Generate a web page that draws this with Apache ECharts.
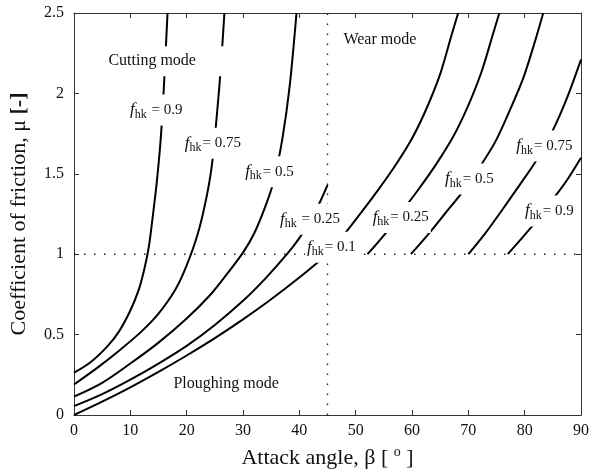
<!DOCTYPE html>
<html>
<head>
<meta charset="utf-8">
<script src="https://cdn.jsdelivr.net/npm/echarts@6/dist/echarts.min.js"></script>
<style>
  html, body { margin: 0; padding: 0; background: #fff; }
  #chart { width: 592px; height: 474px; }
</style>
</head>
<body>
<div id="chart"></div>
<script>
// Axis ranges and tick step
const betaMin = 0, betaMax = 90, betaStep = 10;
const muMin = 0, muMax = 2.5, muStep = 0.5;

// Cutting mode curves: attack angle β (deg) vs friction coefficient μ
const cut09Beta = [0, 3, 6, 8, 10, 11.5, 12.5, 13.3, 14, 14.7, 15.4, 16, 16.6];
const cut09Mu   = [0.263, 0.33, 0.43, 0.52, 0.65, 0.78, 0.91, 1.05, 1.24, 1.45, 1.72, 2.07, 2.5];

const cut075Beta = [0, 4, 8, 12, 15, 18, 20, 22, 23.5, 24.5, 25.5, 26.1, 26.7];
const cut075Mu   = [0.19, 0.29, 0.40, 0.52, 0.63, 0.78, 0.93, 1.13, 1.35, 1.56, 1.92, 2.18, 2.5];

const cut05Beta = [0, 5, 10, 15, 20, 24, 27, 30, 32, 34, 35.5, 37, 38.3, 39.5];
const cut05Mu   = [0.114, 0.2, 0.32, 0.45, 0.6, 0.74, 0.87, 1.01, 1.13, 1.3, 1.46, 1.72, 2.05, 2.5];

const cut025Beta = [0, 5, 10, 15, 20, 25, 30, 34, 37.8, 40, 42, 43.6, 45];
const cut025Mu   = [0.055, 0.13, 0.22, 0.32, 0.43, 0.56, 0.71, 0.85, 1.0, 1.1, 1.21, 1.32, 1.43];

const cut01Beta = [0, 5, 10, 15, 20, 25, 30, 35, 40, 45];
const cut01Mu   = [0, 0.083, 0.172, 0.268, 0.37, 0.478, 0.595, 0.72, 0.855, 1.0];

// Wear mode curves
const wear01Beta = [45, 48, 51, 54, 57, 60, 62.5, 65, 67, 68.2];
const wear01Mu   = [1.0, 1.125, 1.26, 1.4, 1.55, 1.72, 1.9, 2.12, 2.36, 2.5];

const wear025Beta = [52.1, 55.3, 58.3, 61.3, 64.3, 67.3, 69.8, 72.3, 74.3, 75.5];
const wear025Mu   = [1.0, 1.13, 1.27, 1.41, 1.56, 1.73, 1.91, 2.13, 2.36, 2.5];

const wear05Beta = [59.8, 62.8, 65.8, 68.8, 71.8, 74.8, 77.3, 79.8, 81.8, 83.3];
const wear05Mu   = [1.0, 1.12, 1.25, 1.38, 1.53, 1.70, 1.89, 2.1, 2.32, 2.5];

const wear075Beta = [70, 73, 76, 79, 82, 85, 87.5, 90];
const wear075Mu   = [1.0, 1.13, 1.275, 1.425, 1.58, 1.77, 1.97, 2.21];

const wear09Beta = [77, 79, 81, 83, 85, 87.5, 90];
const wear09Mu   = [1.0, 1.08, 1.16, 1.245, 1.34, 1.46, 1.6];

// Boundary lines: μ = 1 and β = 45°
const limitMu = 1;
const limitBeta = 45;

// Region and curve annotations
const annoText = [
  'Cutting mode', 'Wear mode', 'Ploughing mode',
  ' = 0.9', '= 0.75', '= 0.5', ' = 0.25', '= 0.1',
  '= 0.25', '= 0.5', '= 0.75', '= 0.9'
];
const annoIsFhk = [false, false, false, true, true, true, true, true, true, true, true, true];
const annoBeta = [16.36, 54.3, 27.0, 14.6, 24.65, 34.7, 41.9, 45.7, 58.0, 70.2, 83.5, 84.4];
const annoMu   = [2.20, 2.336, 0.197, 1.897, 1.69, 1.513, 1.217, 1.043, 1.229, 1.468, 1.673, 1.269];

const serif = '"Liberation Serif", "DejaVu Serif", serif';
const ink = '#111';

function zip(xs, ys) { return xs.map((x, i) => [x, ys[i]]); }

const curves = [
  [cut09Beta, cut09Mu], [cut075Beta, cut075Mu], [cut05Beta, cut05Mu],
  [cut025Beta, cut025Mu], [cut01Beta, cut01Mu],
  [wear01Beta, wear01Mu], [wear025Beta, wear025Mu], [wear05Beta, wear05Mu],
  [wear075Beta, wear075Mu], [wear09Beta, wear09Mu]
];

const curveSeries = curves.map(([b, m]) => ({
  type: 'line',
  data: zip(b, m),
  smooth: 0.3,
  showSymbol: false,
  silent: true,
  z: 2,
  lineStyle: { color: '#000', width: 2 }
}));

const dotStyle = { color: '#222', width: 1.4, type: [1.5, 8.5], cap: 'butt' };
const guideSeries = [
  { type: 'line', data: [[betaMin, limitMu], [betaMax, limitMu]], showSymbol: false, silent: true, z: 1, lineStyle: dotStyle },
  { type: 'line', data: [[limitBeta, muMin], [limitBeta, muMax]], showSymbol: false, silent: true, z: 1, lineStyle: dotStyle }
];

const fhkRich = {
  f: { fontFamily: serif, fontStyle: 'italic', fontSize: 17, color: ink },
  s: { fontFamily: serif, fontSize: 12, color: ink, padding: [9, 1, 0, 0] },
  t: { fontFamily: serif, fontSize: 15, color: ink }
};

const annoData = annoText.map((txt, i) => {
  let label;
  if (annoIsFhk[i]) {
    label = {
      formatter: '{f|f}{s|hk}{t|' + txt + '}',
      rich: fhkRich,
      padding: [5, 2, 5, 2]
    };
  } else if (i === 0) {
    label = { formatter: txt, padding: [7, 30, 7, 2] };
  } else {
    label = { formatter: txt, padding: [3, 2, 3, 2] };
  }
  return { value: [annoBeta[i], annoMu[i]], label };
});

const annoSeries = {
  type: 'scatter',
  data: annoData,
  symbolSize: 1,
  silent: true,
  z: 5,
  itemStyle: { color: 'rgba(0,0,0,0)', opacity: 1 },
  label: {
    show: true,
    position: 'inside',
    fontFamily: serif,
    fontSize: 16,
    color: ink,
    opacity: 1,
    backgroundColor: '#fff'
  },
  labelLayout: { hideOverlap: false }
};

const frame = { show: true, onZero: false, lineStyle: { color: '#333', width: 1 } };
const tickIn = { show: true, inside: true, length: 5, lineStyle: { color: '#333', width: 1 } };

const option = {
  animation: false,
  backgroundColor: '#fff',
  grid: { left: 73, right: 10, top: 13, bottom: 59 },
  xAxis: [
    {
      type: 'value', min: betaMin, max: betaMax, interval: betaStep,
      axisLine: frame, axisTick: tickIn, splitLine: { show: false },
      axisLabel: { fontFamily: serif, fontSize: 16, color: ink, margin: 8 },
      name: '{a|Attack angle, β [ }{sup|o}{a| ]}',
      nameLocation: 'middle', nameGap: 30,
      nameTextStyle: {
        rich: {
          a: { fontFamily: serif, fontSize: 22, color: ink },
          sup: { fontFamily: serif, fontSize: 14, color: ink, padding: [0, 0, 12, 0] }
        }
      }
    },
    {
      type: 'value', position: 'top', min: betaMin, max: betaMax, interval: betaStep,
      axisLine: frame, axisTick: tickIn, axisLabel: { show: false }, splitLine: { show: false }
    }
  ],
  yAxis: [
    {
      type: 'value', min: muMin, max: muMax, interval: muStep,
      axisLine: frame, axisTick: tickIn, splitLine: { show: false },
      axisLabel: { fontFamily: serif, fontSize: 16, color: ink, margin: 10 },
      name: '{a|Coefficient of friction, μ }{b|[-]}',
      nameLocation: 'middle', nameGap: 44,
      nameTextStyle: {
        rich: {
          a: { fontFamily: serif, fontSize: 22, color: ink },
          b: { fontFamily: serif, fontSize: 22, color: ink, fontWeight: 'bold' }
        }
      }
    },
    {
      type: 'value', position: 'right', min: muMin, max: muMax, interval: muStep,
      axisLine: frame, axisTick: tickIn, axisLabel: { show: false }, splitLine: { show: false }
    }
  ],
  series: [...guideSeries, ...curveSeries, annoSeries]
};

const chart = echarts.init(document.getElementById('chart'), null, { renderer: 'canvas' });
chart.setOption(option);
</script>
</body>
</html>
